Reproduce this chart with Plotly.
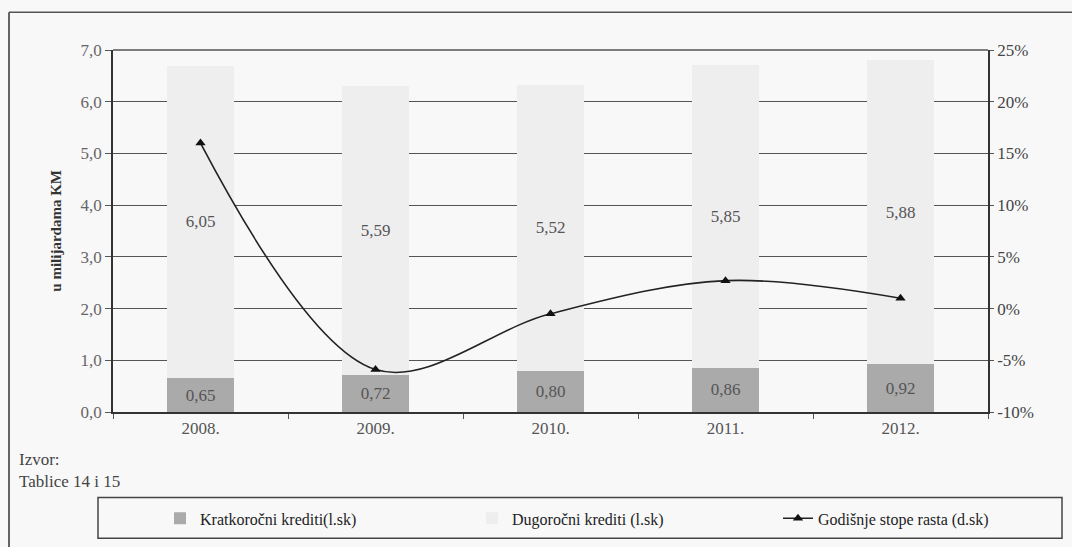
import plotly.graph_objects as go

years = ["2008.", "2009.", "2010.", "2011.", "2012."]
short_term = [0.65, 0.72, 0.80, 0.86, 0.92]
long_term = [6.05, 5.59, 5.52, 5.85, 5.88]
growth = [16.0, -5.9, -0.5, 2.7, 1.0]

left_ticks = [0, 1, 2, 3, 4, 5, 6, 7]
right_ticks = [-10, -5, 0, 5, 10, 15, 20, 25]
right_labels = ["-10%", "-5%", "0%", "5%", "10%", "15%", "20%", "25%"]

FONT = "Liberation Serif, Times New Roman, DejaVu Serif, serif"
W, H = 1072, 547
# plot area in pixel coords
PL, PR, PT, PB = 113, 988, 50, 414
L, T, R, B = PL, PT, W - PR, H - PB
pw, ph = PR - PL, PB - PT

def px_x(x):
    return (x - PL) / pw

def px_y(y):
    return (PB - y) / ph

fig = go.Figure()
fig.add_trace(go.Bar(
    x=years, y=short_term, name="Kratkoročni krediti(l.sk)",
    marker=dict(color="#aaaaaa", line=dict(width=0)),
    texttemplate="%{y:.2f}", textposition="inside", insidetextanchor="middle",
    textfont=dict(family=FONT, size=17, color="#555555"), constraintext="none",
    legend="legend",
))
fig.add_trace(go.Bar(
    x=years, y=long_term, name="Dugoročni krediti (l.sk)",
    marker=dict(color="#eeeeef", line=dict(width=0)),
    texttemplate="%{y:.2f}", textposition="inside", insidetextanchor="middle",
    textfont=dict(family=FONT, size=17, color="#555555"), constraintext="none",
    legend="legend2",
))
fig.add_trace(go.Scatter(
    x=years, y=growth, name="Godišnje stope rasta (d.sk)", yaxis="y2",
    mode="lines+markers", line=dict(color="#222222", width=1.6, shape="spline", smoothing=1.0),
    marker=dict(symbol="triangle-up", size=9, color="#111111"),
    legend="legend3",
))

leg_common = dict(orientation="h", xanchor="left", yanchor="middle",
                  bgcolor="rgba(0,0,0,0)", borderwidth=0,
                  font=dict(family=FONT, size=16, color="#222222"))

fig.update_layout(
    width=W, height=H, margin=dict(l=L, r=R, t=T, b=B, pad=0),
    barmode="stack", bargap=0.62, separators=",.",
    paper_bgcolor="#f8f8f9", plot_bgcolor="#f8f8f9",
    font=dict(family=FONT, size=15, color="#444444"),
    xaxis=dict(
        showline=True, linecolor="#333333", linewidth=1.5,
        ticks="outside", tickson="boundaries", ticklen=5, tickcolor="#555555",
        tickfont=dict(family=FONT, size=17, color="#555555"),
    ),
    yaxis=dict(
        range=[0, 7], tickvals=left_ticks, tickformat=".1f",
        showline=True, linecolor="#333333", linewidth=1.5,
        ticks="outside", ticklen=6, tickcolor="#555555",
        showgrid=True, gridcolor="#555555", gridwidth=1,
        zeroline=False,
        tickfont=dict(family=FONT, size=17, color="#666666"),
    ),
    yaxis2=dict(
        overlaying="y", side="right", range=[-10, 25],
        tickmode="array", tickvals=right_ticks, ticktext=right_labels,
        showgrid=False, zeroline=False,
        showline=True, linecolor="#333333", linewidth=1.5,
        ticks="outside", ticklen=4, tickcolor="#555555",
        tickfont=dict(family=FONT, size=17, color="#444444"),
    ),
    showlegend=True,
    legend=dict(x=px_x(160), y=px_y(521), **leg_common),
    legend2=dict(x=px_x(472), y=px_y(521), **leg_common),
    legend3=dict(x=px_x(778), y=px_y(521), **leg_common),
)

# top border of plot area (7,0 line)
fig.add_shape(type="line", xref="paper", yref="paper", x0=0, x1=1, y0=1, y1=1,
              line=dict(color="#555555", width=1.5))
# outer frame: left and top edges
fig.add_shape(type="line", xref="paper", yref="paper",
              x0=px_x(9), x1=px_x(9), y0=px_y(12), y1=px_y(560),
              line=dict(color="#333333", width=1.5))
fig.add_shape(type="line", xref="paper", yref="paper",
              x0=px_x(9), x1=px_x(1080), y0=px_y(12), y1=px_y(12),
              line=dict(color="#555555", width=1.5))
# legend box
fig.add_shape(type="rect", xref="paper", yref="paper",
              x0=px_x(98), x1=px_x(1062), y0=px_y(500), y1=px_y(541),
              line=dict(color="#444444", width=1.5), fillcolor="rgba(0,0,0,0)")

fig.add_annotation(text="<b>u milijardama KM</b>", textangle=-90, showarrow=False,
                   xref="paper", yref="paper", x=px_x(46), y=px_y(295),
                   font=dict(family=FONT, size=15, color="#333333"))
fig.add_annotation(text="Izvor:", showarrow=False, xref="paper", yref="paper",
                   x=px_x(17), y=px_y(462), xanchor="left", yanchor="middle",
                   font=dict(family=FONT, size=17, color="#444444"))
fig.add_annotation(text="Tablice 14 i 15", showarrow=False, xref="paper", yref="paper",
                   x=px_x(17), y=px_y(484), xanchor="left", yanchor="middle",
                   font=dict(family=FONT, size=17, color="#444444"))

fig.write_html(
    "out.html",
    config={"displayModeBar": False},
    post_script="document.body.style.margin='0';document.body.style.overflow='hidden';",
)
